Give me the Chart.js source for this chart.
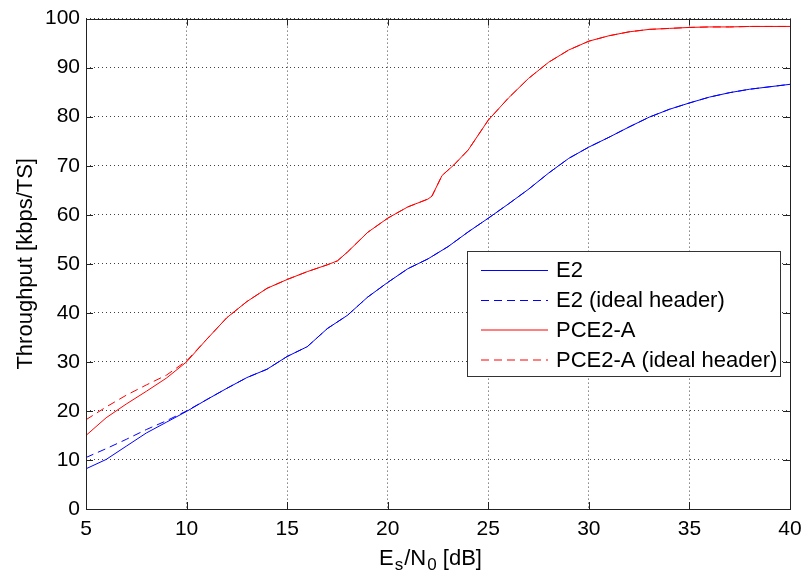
<!DOCTYPE html>
<html>
<head>
<meta charset="utf-8">
<script src="https://cdn.jsdelivr.net/npm/chart.js@4.4.1/dist/chart.umd.min.js"></script>
<style>
  html, body { margin: 0; padding: 0; background: #fff; }
</style>
</head>
<body>
<canvas id="chart" width="802" height="574"></canvas>
<script>
// Es/N0 values [dB] and throughput [kbps/TS]
const snrE2 = [5, 6, 7, 8, 9, 10, 11, 12, 13, 14, 15, 16, 17, 18, 19, 20, 21, 22, 23, 24,
               25, 26, 27, 28, 29, 30, 31, 32, 33, 34, 35, 36, 37, 38, 39, 40];
const e2 = [8.2, 10.1, 12.8, 15.5, 17.7, 19.9, 22.3, 24.6, 26.8, 28.5, 31.1, 33.1, 36.8, 39.5, 43.2, 46.2, 49.0, 51.0, 53.5, 56.5,
            59.3, 62.2, 65.2, 68.5, 71.5, 73.8, 75.8, 77.9, 79.9, 81.5, 82.8, 84.0, 84.9, 85.6, 86.1, 86.6];
const e2Ideal = [10.5, 12.3, 14.2, 16.2, 18.0, 20.0, 22.3, 24.6, 26.8, 28.5, 31.1, 33.1, 36.8, 39.5, 43.2, 46.2, 49.0, 51.0, 53.5, 56.5,
                 59.3, 62.2, 65.2, 68.5, 71.5, 73.8, 75.8, 77.9, 79.9, 81.5, 82.8, 84.0, 84.9, 85.6, 86.1, 86.6];

const snrPce = [5, 6, 7, 8, 9, 10, 11, 12, 13, 14, 15, 16, 17, 17.5, 18, 19, 20, 21, 22, 22.2,
                22.7, 23.3, 24, 25, 26, 27, 28, 29, 30, 31, 32, 33, 34, 35, 36, 37, 38, 39, 40];
const pce = [15.0, 18.6, 21.4, 24.0, 26.7, 30.0, 34.6, 39.0, 42.3, 45.0, 46.8, 48.4, 49.8, 50.6, 52.4, 56.4, 59.3, 61.6, 63.2, 63.8,
             68.0, 70.2, 73.2, 79.3, 83.8, 87.8, 91.1, 93.6, 95.4, 96.5, 97.3, 97.8, 98.0, 98.2, 98.3, 98.3, 98.4, 98.4, 98.4];
const pceIdeal = [18.2, 20.8, 23.2, 25.3, 27.3, 30.2, 34.6, 39.0, 42.3, 45.0, 46.8, 48.4, 49.8, 50.6, 52.4, 56.4, 59.3, 61.6, 63.2, 63.8,
                  68.0, 70.2, 73.2, 79.3, 83.8, 87.8, 91.1, 93.6, 95.4, 96.5, 97.3, 97.8, 98.0, 98.2, 98.3, 98.3, 98.4, 98.4, 98.4];

const seriesLabels = ['E2', 'E2 (ideal header)', 'PCE2-A', 'PCE2-A (ideal header)'];
const xTicks = [5, 10, 15, 20, 25, 30, 35, 40];
const yTicks = [0, 10, 20, 30, 40, 50, 60, 70, 80, 90, 100];

const FONT = 'Arial, "Liberation Sans", sans-serif';
const BLUE = '#0000ff';
const RED = '#ff0000';

function toPoints(xs, ys) {
    return xs.map((x, i) => ({ x: x, y: ys[i] }));
}

function lineSet(label, xs, ys, color, dash) {
    return {
        label: label,
        data: toPoints(xs, ys),
        borderColor: color,
        borderWidth: 1,
        borderDash: dash,
        pointRadius: 0,
        tension: 0,
        fill: false
    };
}

// box, inward ticks, legend and x label (with subscripts)
const matlabAxes = {
    id: 'matlabAxes',
    afterDraw(chart) {
        const ctx = chart.ctx;
        const a = chart.chartArea;
        const xs = chart.scales.x;
        const ys = chart.scales.y;
        const tl = 7;
        ctx.save();
        ctx.strokeStyle = '#222';
        ctx.lineWidth = 1;
        ctx.setLineDash([]);
        ctx.beginPath();
        xTicks.forEach(v => {
            const px = Math.round(xs.getPixelForValue(v)) + 0.5;
            ctx.moveTo(px, a.bottom); ctx.lineTo(px, a.bottom - tl);
            ctx.moveTo(px, a.top); ctx.lineTo(px, a.top + tl);
        });
        yTicks.forEach(v => {
            const py = Math.round(ys.getPixelForValue(v)) + 0.5;
            ctx.moveTo(a.left, py); ctx.lineTo(a.left + tl, py);
            ctx.moveTo(a.right, py); ctx.lineTo(a.right - tl, py);
        });
        ctx.stroke();
        ctx.strokeRect(Math.round(a.left) + 0.5, Math.round(a.top) + 0.5,
                       Math.round(a.right - a.left), Math.round(a.bottom - a.top));

        // legend
        const lx = 467.5, ly = 251.5, lw = 313, lh = 125;
        ctx.fillStyle = '#fff';
        ctx.fillRect(lx, ly, lw, lh);
        ctx.strokeStyle = '#333';
        ctx.strokeRect(lx, ly, lw, lh);
        const rows = [270, 300, 329.5, 359.5];
        ctx.font = '22px ' + FONT;
        ctx.textBaseline = 'middle';
        ctx.textAlign = 'left';
        chart.data.datasets.forEach((ds, i) => {
            const y = rows[i] + 0.5;
            ctx.strokeStyle = ds.borderColor;
            ctx.setLineDash(ds.borderDash || []);
            ctx.beginPath();
            ctx.moveTo(481, y);
            ctx.lineTo(548, y);
            ctx.stroke();
            ctx.fillStyle = '#000';
            ctx.fillText(ds.label, 556, rows[i] + 1);
        });
        ctx.setLineDash([]);

        // x axis label: Es/N0 [dB]
        const parts = [
            { t: 'E', size: 22, dy: 0, gap: 1 },
            { t: 's', size: 17, dy: 5, gap: 1 },
            { t: '/N', size: 22, dy: 0, gap: 1 },
            { t: '0', size: 17, dy: 5, gap: 0 },
            { t: ' [dB]', size: 22, dy: 0, gap: 0 }
        ];
        let total = 0;
        parts.forEach(p => {
            ctx.font = p.size + 'px ' + FONT;
            p.w = ctx.measureText(p.t).width + p.gap;
            total += p.w;
        });
        let x = 430.5 - total / 2;
        const base = 565;
        ctx.textBaseline = 'alphabetic';
        ctx.fillStyle = '#000';
        parts.forEach(p => {
            ctx.font = p.size + 'px ' + FONT;
            ctx.fillText(p.t, x, base + p.dy);
            x += p.w;
        });
        ctx.restore();
    }
};

new Chart(document.getElementById('chart'), {
    type: 'line',
    data: {
        datasets: [
            lineSet(seriesLabels[0], snrE2, e2, BLUE, []),
            lineSet(seriesLabels[1], snrE2, e2Ideal, BLUE, [8, 5]),
            lineSet(seriesLabels[2], snrPce, pce, RED, []),
            lineSet(seriesLabels[3], snrPce, pceIdeal, RED, [8, 5])
        ]
    },
    options: {
        responsive: false,
        animation: false,
        layout: { padding: { top: 18, right: 12, left: 0, bottom: 0 } },
        plugins: {
            legend: { display: false },
            tooltip: { enabled: false }
        },
        scales: {
            x: {
                type: 'linear',
                min: 5,
                max: 40,
                afterBuildTicks: scale => { scale.ticks = xTicks.map(v => ({ value: v })); },
                afterFit: scale => {
                    scale.height = 65;
                    scale.paddingLeft = 0;
                    scale.paddingRight = 0;
                },
                ticks: { color: '#000', font: { family: FONT, size: 21 }, padding: 8, maxRotation: 0 },
                grid: { color: 'rgba(0,0,0,0.75)', lineWidth: 1, drawTicks: false },
                border: { display: false, dash: [1, 3] }
            },
            y: {
                min: 0,
                max: 100,
                afterBuildTicks: scale => { scale.ticks = yTicks.map(v => ({ value: v })); },
                afterFit: scale => { scale.width = 86; },
                ticks: { color: '#000', font: { family: FONT, size: 21 }, padding: 6 },
                title: {
                    display: true,
                    text: 'Throughput [kbps/TS]',
                    color: '#000',
                    font: { family: FONT, size: 22 },
                    padding: { top: 13, bottom: 0 }
                },
                grid: { color: 'rgba(0,0,0,0.75)', lineWidth: 1, drawTicks: false },
                border: { display: false, dash: [1, 3] }
            }
        }
    },
    plugins: [matlabAxes]
});
</script>
</body>
</html>
